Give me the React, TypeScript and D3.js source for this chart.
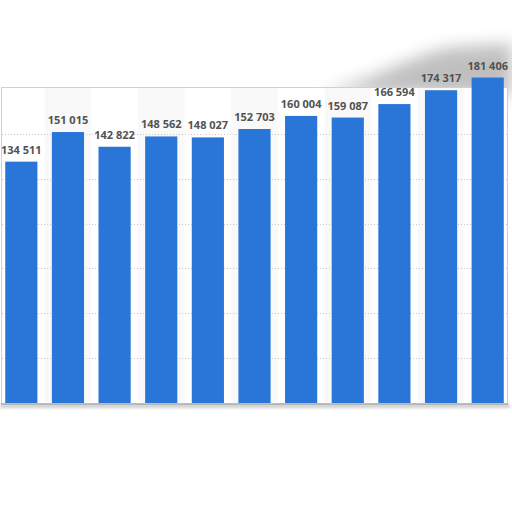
import React from 'react';
import * as d3 from 'd3';

// Values
const categories = ['1', '2', '3', '4', '5', '6', '7', '8', '9', '10', '11'];
const values = [134511, 151015, 142822, 148562, 148027, 152703, 160004, 159087, 166594, 174317, 181406];
const gridTicks = [25000, 50000, 75000, 100000, 125000, 150000];

const W = 512;
const H = 512;

const fmt = d3.formatLocale({ decimal: ',', thousands: ' ', grouping: [3], currency: ['', ''] }).format(',d');

export default function App() {
  const x = d3.scaleBand<string>()
    .domain(categories)
    .range([-2, 511])
    .paddingInner(0.31)
    .paddingOuter(0.155);

  const y = d3.scaleLinear()
    .domain([0, 175000])
    .range([403, 89]);

  const top = y(175000) - 1.5;
  const bottom = y(0) + 1;

  return (
    <svg
      width={W}
      height={H}
      style={{ position: 'fixed', left: 0, top: 0, background: '#fff' }}
    >
      <defs>
        <filter id="blur" x="-30%" y="-80%" width="160%" height="260%">
          <feGaussianBlur stdDeviation="8" />
        </filter>
        <filter id="blurSmall" x="-5%" y="-50%" width="110%" height="200%">
          <feGaussianBlur stdDeviation="1.5" />
        </filter>
      </defs>

      {/* curled page shadow, top right */}
      <path
        d={`M320,${top + 4} C370,${top - 4} 400,${top - 28} 450,${top - 40} L512,${top - 44} L512,${top + 8} Z`}
        fill="#8c8c8c"
        opacity={0.55}
        filter="url(#blur)"
      />
      {/* bottom shadow */}
      <rect x={0} y={bottom} width={510} height={4} fill="#a0a0a0" opacity={0.5} filter="url(#blurSmall)" />

      {/* chart frame */}
      <rect x={1.5} y={top} width={506} height={bottom - top} fill="#fff" stroke="#d0d0d0" strokeWidth={1} />

      {/* alternating column shading */}
      {categories.map((c, i) =>
        i % 2 === 1 ? (
          <rect
            key={`band-${c}`}
            x={(x(c) as number) - (x.step() - x.bandwidth()) / 2}
            y={top + 0.5}
            width={x.step()}
            height={bottom - top - 1}
            fill="#f9f9f9"
          />
        ) : null
      )}

      {/* grid lines */}
      {gridTicks.map((t) => (
        <line
          key={`g-${t}`}
          x1={2}
          x2={507}
          y1={Math.round(y(t)) + 0.5}
          y2={Math.round(y(t)) + 0.5}
          stroke="#c8c8c8"
          strokeWidth={1}
          strokeDasharray="1,2"
        />
      ))}

      {/* bars */}
      {categories.map((c, i) => (
        <rect
          key={`bar-${c}`}
          x={x(c)}
          y={y(values[i])}
          width={x.bandwidth()}
          height={y(0) - y(values[i])}
          fill="#2a76d8"
        />
      ))}

      {/* baseline */}
      <line x1={1} x2={508} y1={bottom} y2={bottom} stroke="#8f8f8f" strokeWidth={1.2} />

      {/* value labels */}
      {categories.map((c, i) => (
        <text
          key={`lab-${c}`}
          x={(x(c) as number) + x.bandwidth() / 2}
          y={y(values[i]) - 8}
          textAnchor="middle"
          fontFamily="'Open Sans', sans-serif"
          fontWeight={700}
          fontSize={11}
          fill="#525252"
        >
          {fmt(values[i])}
        </text>
      ))}
    </svg>
  );
}
